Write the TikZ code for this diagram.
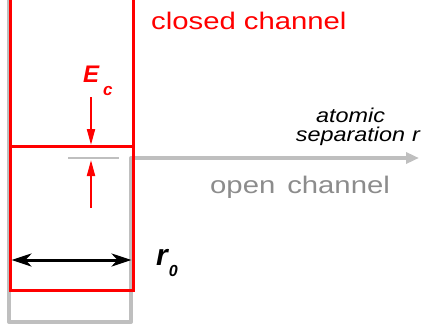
\documentclass[tikz,border=0pt]{standalone}
\usepackage{fontspec}
\setmainfont{Liberation Sans}
\newfontfamily\widesans[FakeStretch=1.22]{Liberation Sans}
\newfontfamily\wideital[FakeStretch=1.17]{Liberation Sans Italic}
\usetikzlibrary{arrows.meta,positioning}

\begin{document}
\begin{tikzpicture}[x=1pt, y=-1pt,
  closedwall/.style={draw=red, line width=3pt, line join=miter},
  openwall/.style={draw=black!25, line width=4pt, line join=round},
  gap/.style={-{Triangle[length=16pt,width=8pt]}, draw=red, line width=2pt},
  span/.style={{Stealth[length=20pt,width=13pt,inset=6pt]}-{Stealth[length=20pt,width=13pt,inset=6pt]},
               line width=3pt},
  lbl/.style={inner sep=0pt, anchor=base west}
]
\useasboundingbox (0,0) rectangle (421,335);

% open channel (gray)
\coordinate (oTL)   at (9,0);
\coordinate (oBL)   at (9,322);
\coordinate (oBR)   at (131,322);
\coordinate (oEdge) at (131,158);
\coordinate (rEnd)  at (419,158);
\draw[openwall, -{Triangle[length=13pt,width=11pt]}]
  (oTL) -- (oBL) -- (oBR) -- (oEdge) -- (rEnd);
\coordinate (tL) at (68,158);
\coordinate (tR) at (119,158);
\draw[draw=black!25, line width=2pt] (tL) -- (tR);

% closed channel (red)
\coordinate (cTL) at (10,0);
\coordinate (cBL) at (10,290);
\coordinate (cBR) at (133,290);
\coordinate (cTR) at (133,0);
\draw[closedwall] (cTL) -- (cBL) -- (cBR) -- (cTR);
\coordinate (thL) at (10,146);
\coordinate (thR) at (133,146);
\draw[closedwall] (thL) -- (thR);

% detuning arrows
\coordinate (dnA) at (91,97);
\coordinate (dnB) at (91,145);
\coordinate (upA) at (91,208);
\coordinate (upB) at (91,160);
\draw[gap] (dnA) -- (dnB);
\draw[gap] (upA) -- (upB);

% well width
\coordinate (wL) at (11.5,260);
\coordinate (wR) at (131.5,260);
\draw[span] (wL) -- (wR);

% labels
\node[lbl, text=red, font=\widesans\fontsize{24}{28}\selectfont] (closed) at (151,29.5) {closed channel};
\node[lbl, text=black!45, font=\widesans\fontsize{24}{28}\selectfont] (open) at (210,193) {open\hspace{0.5em}channel};
\node[lbl, text=red, font=\bfseries\itshape\fontsize{24}{28}\selectfont] (Ec) at (83,82)
  {E\hspace{4pt}\raisebox{-13pt}{\fontsize{17}{17}\selectfont c}};
\node[lbl, font=\bfseries\itshape\fontsize{30}{34}\selectfont] (r0) at (156,265)
  {r\hspace{1pt}\raisebox{-11pt}{\fontsize{16}{16}\selectfont 0}};
\node[inner sep=0pt, anchor=base, align=center, font=\wideital\fontsize{20}{19}\selectfont] (sep) at (350.5,141)
  {atomic\\separation};
\node[lbl, font=\wideital\fontsize{20}{19}\selectfont] (r) at (412,141) {r};
\end{tikzpicture}
\end{document}
